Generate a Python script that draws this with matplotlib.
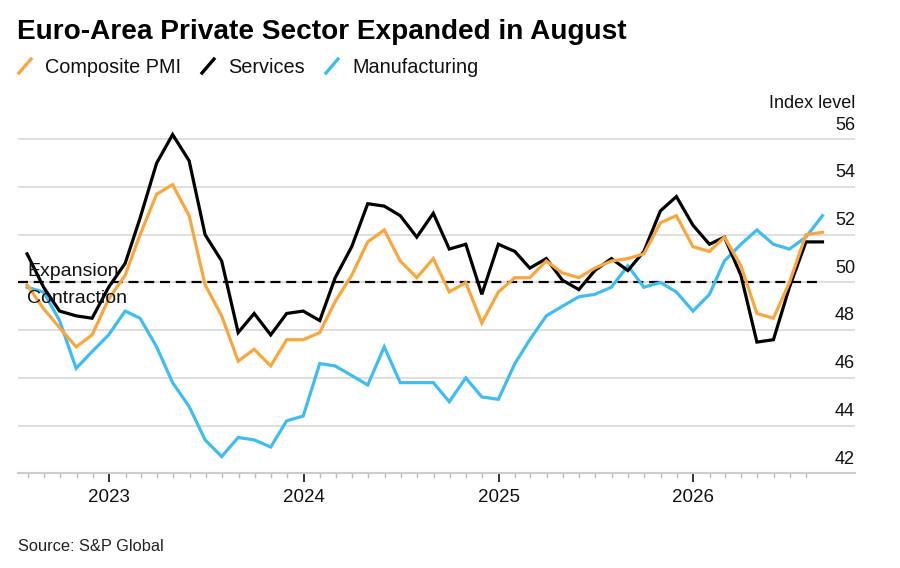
import pandas as pd
import matplotlib
matplotlib.use("Agg")
import matplotlib.pyplot as plt
import matplotlib.dates as mdates
import matplotlib.ticker as mticker
from matplotlib.lines import Line2D
from matplotlib.transforms import offset_copy

# Data (month-end, Jul 2022 - Aug 2026) ########################################

months = pd.date_range("2022-07-31", "2026-08-31", freq="ME")

composite = [49.9, 48.9, 48.1, 47.3, 47.8, 49.3,
             50.3, 52.0, 53.7, 54.1, 52.8, 49.9, 48.6, 46.7, 47.2, 46.5, 47.6, 47.6,
             47.9, 49.2, 50.3, 51.7, 52.2, 50.9, 50.2, 51.0, 49.6, 50.0, 48.3, 49.6,
             50.2, 50.2, 50.9, 50.4, 50.2, 50.6, 50.9, 51.0, 51.2, 52.5, 52.8, 51.5,
             51.3, 51.9, 50.7, 48.7, 48.5, 50.0, 52.0, 52.1]

services = [51.2, 49.8, 48.8, 48.6, 48.5, 49.8,
            50.8, 52.7, 55.0, 56.2, 55.1, 52.0, 50.9, 47.9, 48.7, 47.8, 48.7, 48.8,
            48.4, 50.2, 51.5, 53.3, 53.2, 52.8, 51.9, 52.9, 51.4, 51.6, 49.5, 51.6,
            51.3, 50.6, 51.0, 50.1, 49.7, 50.5, 51.0, 50.5, 51.3, 53.0, 53.6, 52.4,
            51.6, 51.9, 50.3, 47.5, 47.6, 49.8, 51.7, 51.7]

manufacturing = [49.8, 49.6, 48.4, 46.4, 47.1, 47.8,
                 48.8, 48.5, 47.3, 45.8, 44.8, 43.4, 42.7, 43.5, 43.4, 43.1, 44.2, 44.4,
                 46.6, 46.5, 46.1, 45.7, 47.3, 45.8, 45.8, 45.8, 45.0, 46.0, 45.2, 45.1,
                 46.6, 47.6, 48.6, 49.0, 49.4, 49.5, 49.8, 50.7, 49.8, 50.0, 49.6, 48.8,
                 49.5, 50.9, 51.6, 52.2, 51.6, 51.4, 51.9, 52.8]

y_ticks = [42, 44, 46, 48, 50, 52, 54, 56]

ORANGE = "#fba63c"
BLACK = "#000000"
BLUE = "#3dbdf3"
GRID = "#d9d9d9"

plt.rcParams["font.family"] = ["Liberation Sans", "DejaVu Sans"]

W, H = 900, 568


def px(x, y):
    return x / W, 1 - y / H


# Figure #######################################################################

fig = plt.figure(figsize=(W / 100, H / 100), dpi=100)
ax = fig.add_axes([18 / W, 1 - 473.3 / H, (855 - 18) / W, (473.3 - 125) / H])

x_left = pd.Timestamp("2022-07-14")
ax.set_xlim(x_left, pd.Timestamp("2026-10-31"))
ax.set_ylim(42, 56.6)

for v in y_ticks[1:]:
    ax.axhline(v, color=GRID, lw=1.2, zorder=0)

ax.plot([x_left, months[-1]], [50, 50], color=BLACK, lw=1.6,
        ls=(0, (4.5, 2.6)), zorder=1)

ax.plot(months, manufacturing, color=BLUE, lw=2.3, zorder=2, solid_joinstyle="miter")
ax.plot(months, services, color=BLACK, lw=2.3, zorder=3, solid_joinstyle="miter")
ax.plot(months, composite, color=ORANGE, lw=2.3, zorder=4, solid_joinstyle="miter")

for s in ["top", "left", "right"]:
    ax.spines[s].set_visible(False)
ax.spines["bottom"].set_color("#cccccc")
ax.spines["bottom"].set_linewidth(1.5)

ax.set_yticks([])
ax.xaxis.set_major_locator(mdates.YearLocator())
ax.xaxis.set_major_formatter(mdates.DateFormatter("%Y"))
minor = pd.date_range("2022-08-01", "2026-08-01", freq="MS")
ax.xaxis.set_minor_locator(mticker.FixedLocator(mdates.date2num(minor)))
ax.tick_params(axis="x", which="major", length=6.5, width=1.4, color="#333333",
               labelsize=13.5, pad=5, labelcolor="#111111")
ax.tick_params(axis="x", which="minor", length=3.5, width=1, color="#bbbbbb")

# y labels sit above the gridlines, right aligned
ytrans = offset_copy(ax.get_yaxis_transform(), fig=fig, x=0, y=7, units="points")
for v in y_ticks:
    ax.text(1.0, v, str(v), transform=ytrans, ha="right", va="baseline",
            fontsize=13, color="#111111")

# Texts ########################################################################

fig.text(*px(855, 108), "Index level", ha="right", va="baseline", fontsize=13,
         color="#111111")
fig.text(*px(27.5, 275.7), "Expansion", ha="left", va="baseline", fontsize=14,
         color="#111111")
fig.text(*px(27.5, 303.3), "Contraction", ha="left", va="baseline", fontsize=14,
         color="#111111")

fig.text(*px(17, 39), "Euro-Area Private Sector Expanded in August", ha="left",
         va="baseline", fontsize=20.2, fontweight="bold", color="#000000")

legend_items = [("Composite PMI", ORANGE, 19, 45),
                ("Services", BLACK, 202, 228),
                ("Manufacturing", BLUE, 326, 352)]
for label, col, sx, tx in legend_items:
    x0, y0 = px(sx, 73)
    x1, y1 = px(sx + 12, 59)
    fig.add_artist(Line2D([x0, x1], [y0, y1], color=col, lw=2.4,
                          transform=fig.transFigure))
    fig.text(*px(tx, 73), label, ha="left", va="baseline", fontsize=14.3,
             color="#111111")

fig.text(*px(18, 551), "Source: S&P Global", ha="left", va="baseline",
         fontsize=11.8, color="#222222")

fig.savefig("out.png", dpi=100)
